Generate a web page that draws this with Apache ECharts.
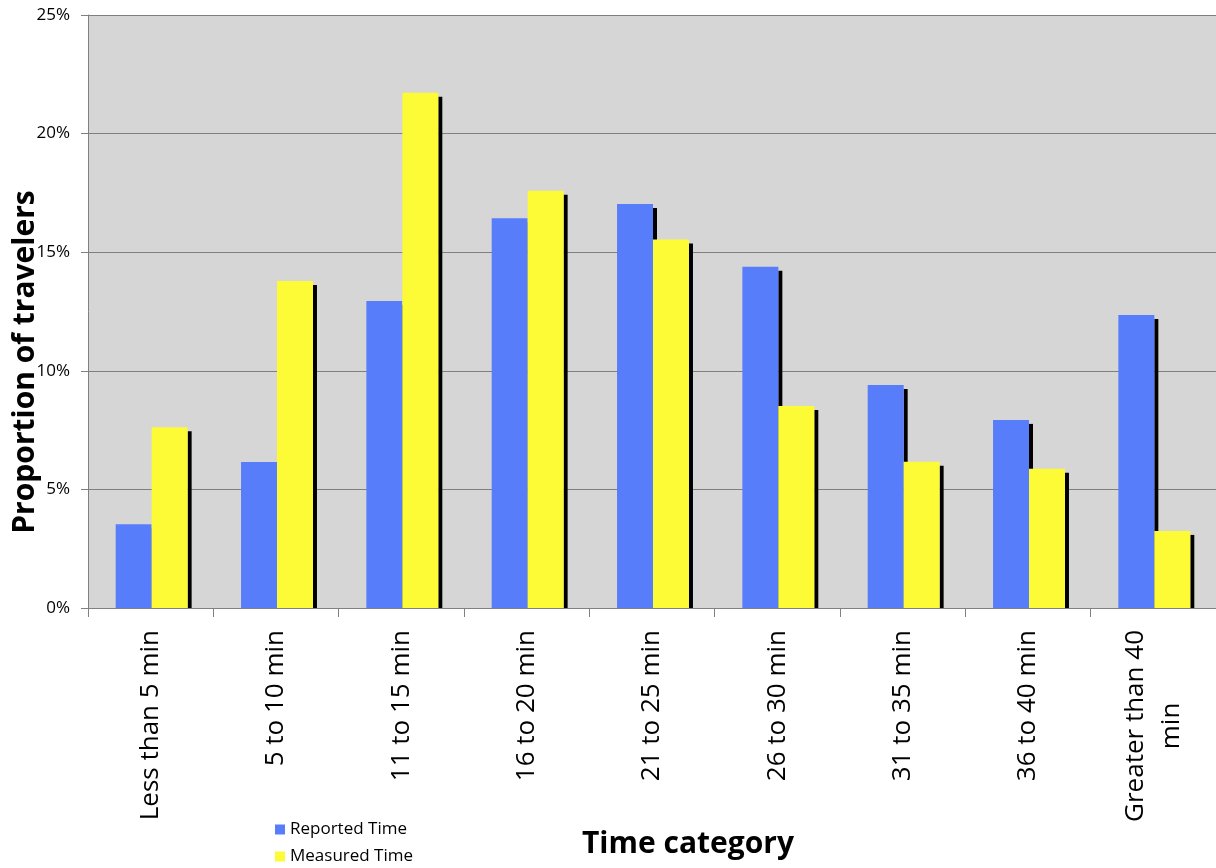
<!DOCTYPE html>
<html>
<head>
<meta charset="utf-8">
<script src="https://cdn.jsdelivr.net/npm/echarts@6/dist/echarts.min.js"></script>
<style>
  html, body { margin: 0; padding: 0; background: #ffffff; }
  #chart { width: 1216px; height: 868px; }
</style>
</head>
<body>
<div id="chart"></div>
<script>
// Travel time categories and share of travelers (%) in each
const categories = [
  'Less than 5 min', '5 to 10 min', '11 to 15 min', '16 to 20 min',
  '21 to 25 min', '26 to 30 min', '31 to 35 min', '36 to 40 min',
  'Greater than 40\nmin'
];
const reportedTime = [3.53, 6.16, 12.94, 16.43, 17.03, 14.39, 9.40, 7.93, 12.35];
const measuredTime = [7.62, 13.79, 21.72, 17.59, 15.54, 8.52, 6.17, 5.87, 3.25];
const yTicks = [0, 5, 10, 15, 20, 25];

const FONT = '"Open Sans", "DejaVu Sans", sans-serif';

// Bar with a hard black drop shadow on its right side.
// slot 0 sits left of the category centre, slot 1 right of it.
function shadowedBar(slot) {
  return function (params, api) {
    const idx = api.value(0);
    const base = api.coord([idx, 0]);
    const top = api.coord([idx, api.value(1)]);
    const band = api.size([1, 0])[0];
    const bw = band * 0.287;
    const x = base[0] + 1 + (slot === 0 ? -bw : 0);
    const h = base[1] - top[1];
    const sh = 4;
    return {
      type: 'group',
      children: [
        {
          type: 'rect',
          shape: { x: x + bw, y: top[1] + sh, width: sh, height: Math.max(0, h - sh) },
          style: { fill: '#000000' }
        },
        {
          type: 'rect',
          shape: { x: x, y: top[1], width: bw, height: h },
          style: { fill: api.visual('color') }
        }
      ]
    };
  };
}

const chart = echarts.init(document.getElementById('chart'), null, { renderer: 'canvas' });
chart.setOption({
  backgroundColor: '#ffffff',
  animation: false,
  grid: {
    left: 88, right: 0, top: 15, bottom: 260,
    outerBoundsMode: 'none',
    containLabel: false,
    show: true, backgroundColor: '#d6d6d6', borderWidth: 0
  },
  // vertical axis title, reading bottom to top
  graphic: [
    {
      type: 'text',
      x: 25,
      y: 362,
      rotation: Math.PI / 2,
      style: {
        text: 'Proportion of travelers',
        font: 'bold 30px ' + FONT,
        fill: '#000',
        align: 'center',
        verticalAlign: 'middle'
      }
    }
  ],
  legend: {
    orient: 'vertical',
    left: 275,
    top: 821,
    padding: 0,
    itemWidth: 10,
    itemHeight: 10,
    itemGap: 10,
    icon: 'rect',
    textStyle: { fontFamily: FONT, fontSize: 17, color: '#000' },
    data: ['Reported Time', 'Measured Time']
  },
  xAxis: {
    type: 'category',
    data: categories,
    name: 'Time category',
    nameLocation: 'middle',
    nameGap: 213,
    nameTextStyle: { fontFamily: FONT, fontSize: 30, fontWeight: 'bold', color: '#000', padding: [0, 0, 0, 72] },
    axisLine: { lineStyle: { color: '#808080', width: 1 } },
    axisTick: { show: true, length: 9, lineStyle: { color: '#808080' } },
    axisLabel: {
      interval: 0,
      rotate: 90,
      margin: 22,
      color: '#000',
      fontFamily: FONT,
      fontSize: 26,
      lineHeight: 36,
      formatter: function (v) {
        return v.split('\n').map(function (s) { return '{c|' + s + '}'; }).join('\n');
      },
      rich: { c: { align: 'center', fontFamily: FONT, fontSize: 26, lineHeight: 36, color: '#000' } }
    }
  },
  yAxis: {
    type: 'value',
    min: yTicks[0],
    max: yTicks[yTicks.length - 1],
    interval: 5,
    axisLine: { show: true, lineStyle: { color: '#808080', width: 1 } },
    axisTick: { show: true, length: 7, lineStyle: { color: '#808080' } },
    axisLabel: { formatter: '{value}%', color: '#000', fontFamily: FONT, fontSize: 17, margin: 18 },
    splitLine: { show: true, lineStyle: { color: '#7f7f7f', width: 1 } }
  },
  series: [
    {
      name: 'Reported Time',
      type: 'custom',
      itemStyle: { color: '#587dfa' },
      renderItem: shadowedBar(0),
      encode: { x: 0, y: 1 },
      data: reportedTime.map(function (v, i) { return [i, v]; }),
      z: 2
    },
    {
      name: 'Measured Time',
      type: 'custom',
      itemStyle: { color: '#fdfb36' },
      renderItem: shadowedBar(1),
      encode: { x: 0, y: 1 },
      data: measuredTime.map(function (v, i) { return [i, v]; }),
      z: 3
    }
  ]
});
</script>
</body>
</html>
